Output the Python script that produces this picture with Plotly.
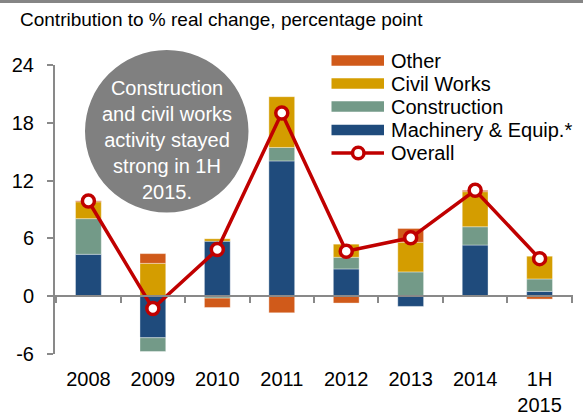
import plotly.graph_objects as go

categories = ["2008", "2009", "2010", "2011", "2012", "2013", "2014", "1H<br>2015"]
machinery = [4.35, -4.31, 5.71, 14.04, 2.83, -1.06, 5.31, 0.5]
construction = [3.7, -1.43, -0.2, 1.4, 1.21, 2.52, 1.9, 1.29]
civil_works = [1.75, 3.41, 0.25, 5.27, 1.36, 3.08, 3.64, 2.36]
other = [0.1, 1.01, -0.97, -1.72, -0.71, 1.43, 0.14, -0.3]
overall = [9.88, -1.28, 4.84, 19.01, 4.67, 6.06, 10.99, 3.9]
y_ticks = [-6, 0, 6, 12, 18, 24]
y_tick_text = ["-6", "0", "6", "12", "18", "24"]

FONT = "Liberation Sans, Arial, sans-serif"
RED = "#C00000"
GREY = "#898989"

# bars are stacked bottom-up in this order
bar_series = [
    ("Machinery & Equip.*", machinery, "#1F4B7C"),
    ("Construction", construction, "#739A88"),
    ("Civil Works", civil_works, "#D49D00"),
    ("Other", other, "#D05A1A"),
]

# plot area in pixels (583x415 page)
L, R, T, B = 55, 10, 65, 61
W, H = 583 - L - R, 415 - T - B


def px_x(x):
    return (x - L) / W


def px_y(y):
    return (415 - B - y) / H


fig = go.Figure()
for name, vals, color in bar_series:
    fig.add_trace(go.Bar(x=categories, y=vals, name=name, width=0.4,
                         marker=dict(color=color, line=dict(color="rgba(255,255,255,0.6)", width=0.6))))

fig.add_trace(go.Scatter(x=categories, y=overall, name="Overall", mode="lines+markers",
                         line=dict(color=RED, width=3.5),
                         marker=dict(size=12, color="white", line=dict(color=RED, width=3.5))))

shapes = []
annotations = []

# top border strip
shapes.append(dict(type="rect", xref="paper", yref="paper", x0=px_x(0), x1=px_x(583),
                   y0=px_y(3), y1=px_y(0), fillcolor="#858585", line=dict(width=0)))

# callout bubble
shapes.append(dict(type="circle", xref="paper", yref="paper", x0=px_x(85), x1=px_x(248.5),
                   y0=px_y(212.5), y1=px_y(50), fillcolor="#808080", line=dict(width=0), layer="below"))
annotations.append(dict(xref="paper", yref="paper", x=px_x(166.7), y=px_y(140), showarrow=False,
                        xanchor="center", yanchor="middle",
                        text="Construction<br>and civil works<br>activity stayed<br>strong in 1H<br>2015.",
                        font=dict(family=FONT, size=20, color="white"), align="center"))

# title
annotations.append(dict(xref="paper", yref="paper", x=px_x(18), y=px_y(19), xanchor="left",
                        yanchor="middle", showarrow=False,
                        text="Contribution to % real change, percentage point",
                        font=dict(family=FONT, size=19, color="black")))

# custom legend
legend_rows = [(name, color) for name, _, color in reversed(bar_series)]
row_y = [60.5, 83.5, 106.5, 130, 153]
for (name, color), yy in zip(legend_rows, row_y):
    shapes.append(dict(type="rect", xref="paper", yref="paper", x0=px_x(331.5), x1=px_x(384),
                       y0=px_y(yy + 5.3), y1=px_y(yy - 5.3), fillcolor=color, line=dict(width=0)))
    annotations.append(dict(xref="paper", yref="paper", x=px_x(389), y=px_y(yy), xanchor="left",
                            yanchor="middle", showarrow=False, text=name,
                            font=dict(family=FONT, size=20, color="black")))
yy = row_y[4]
shapes.append(dict(type="line", xref="paper", yref="paper", x0=px_x(331.5), x1=px_x(384),
                   y0=px_y(yy), y1=px_y(yy), line=dict(color=RED, width=3.5)))
shapes.append(dict(type="circle", xref="paper", yref="paper", x0=px_x(352.5), x1=px_x(364),
                   y0=px_y(yy + 5.75), y1=px_y(yy - 5.75), fillcolor="white",
                   line=dict(color=RED, width=3.5)))
annotations.append(dict(xref="paper", yref="paper", x=px_x(389), y=px_y(yy), xanchor="left",
                        yanchor="middle", showarrow=False, text="Overall",
                        font=dict(family=FONT, size=20, color="black")))

fig.update_layout(
    width=583, height=415,
    margin=dict(l=L, r=R, t=T, b=B, autoexpand=False),
    barmode="relative",
    plot_bgcolor="white", paper_bgcolor="white",
    showlegend=False,
    font=dict(family=FONT, size=20, color="black"),
    shapes=shapes, annotations=annotations,
    xaxis=dict(type="category", anchor="free", position=0.2, showline=True, linecolor=GREY,
               linewidth=2, ticks="outside", tickson="boundaries", ticklen=6, tickcolor=GREY,
               tickwidth=2, ticklabelstandoff=65, showgrid=False, zeroline=False,
               automargin=False, tickfont=dict(family=FONT, size=20, color="black")),
    yaxis=dict(range=[-6, 24], tickvals=y_ticks, ticktext=y_tick_text, showline=True,
               linecolor=GREY, linewidth=2, ticks="outside", ticklen=6, tickcolor=GREY,
               tickwidth=2, showgrid=False, zeroline=False, ticklabelstandoff=9,
               automargin=False, tickfont=dict(family=FONT, size=20, color="black")),
)

fig.write_html("out.html", config={"displayModeBar": False},
               post_script="document.body.style.margin='0';")
